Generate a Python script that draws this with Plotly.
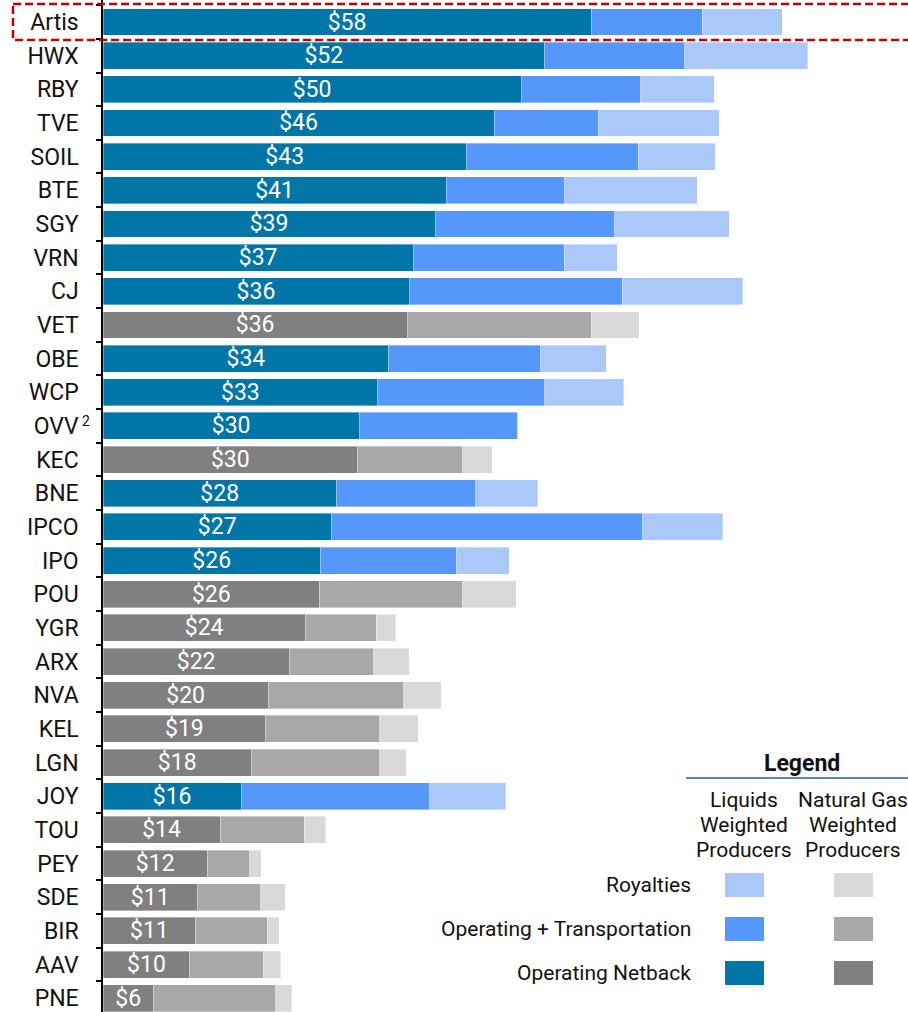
import plotly.graph_objects as go

companies = ["Artis", "HWX", "RBY", "TVE", "SOIL", "BTE", "SGY", "VRN", "CJ", "VET",
             "OBE", "WCP", "OVV", "KEC", "BNE", "IPCO", "IPO", "POU", "YGR", "ARX",
             "NVA", "KEL", "LGN", "JOY", "TOU", "PEY", "SDE", "BIR", "AAV", "PNE"]
producer_type = ["L", "L", "L", "L", "L", "L", "L", "L", "L", "G",
                 "L", "L", "L", "G", "L", "L", "L", "G", "G", "G",
                 "G", "G", "G", "L", "G", "G", "G", "G", "G", "G"]
netback = [57.9, 52.4, 49.6, 46.4, 43.1, 40.7, 39.4, 36.8, 36.3, 36.1,
           33.9, 32.6, 30.4, 30.2, 27.7, 27.1, 25.8, 25.7, 24.0, 22.1,
           19.6, 19.3, 17.6, 16.4, 13.9, 12.4, 11.2, 11.0, 10.3, 6.0]
opex_transport = [13.2, 16.6, 14.2, 12.4, 20.4, 14.1, 21.3, 17.9, 25.3, 21.8,
                  18.0, 19.8, 18.8, 12.5, 16.5, 36.9, 16.1, 17.0, 8.4, 10.0,
                  16.1, 13.5, 15.2, 22.3, 10.0, 5.0, 7.5, 8.5, 8.7, 14.5]
royalties = [9.5, 14.6, 8.7, 14.3, 9.1, 15.7, 13.6, 6.3, 14.3, 5.7,
             7.8, 9.4, 0.0, 3.5, 7.4, 9.5, 6.3, 6.3, 2.3, 4.2,
             4.4, 4.6, 3.2, 9.1, 2.5, 1.4, 2.9, 1.4, 2.1, 1.9]

row_labels = ["Royalties", "Operating + Transportation", "Operating Netback"]
col_labels = [["Liquids", "Weighted", "Producers"], ["Natural Gas", "Weighted", "Producers"]]

COLORS = {
    "L": {"net": "#0075A8", "opex": "#5597FA", "roy": "#AAC8F9"},
    "G": {"net": "#808080", "opex": "#A8A8A8", "roy": "#D9D9D9"},
}

FONT = "Roboto, Noto Sans, sans-serif"
W, H = 908, 1012
ML = 103


def px(x):
    return (x - ML) / (W - ML)


def py(y):
    return 1 - y / H


fig = go.Figure()
segments = [("net", netback), ("opex", opex_transport), ("roy", royalties)]
for key, vals in segments:
    fig.add_trace(go.Bar(
        y=companies, x=vals, orientation="h",
        marker=dict(color=[COLORS[t][key] for t in producer_type],
                    line=dict(color="rgba(255,255,255,0.6)", width=0.6)),
        texttemplate="$%{x:.0f}" if key == "net" else None,
        textposition="inside" if key == "net" else "none",
        insidetextanchor="middle",
        textangle=0,
        textfont=dict(color="white", size=23, family=FONT),
        constraintext="none",
        hoverinfo="skip",
        showlegend=False,
    ))

fig.update_layout(
    width=W, height=H,
    margin=dict(l=ML, r=0, t=0, b=0),
    barmode="stack", bargap=0.2,
    plot_bgcolor="white", paper_bgcolor="white",
    font=dict(family=FONT, color="#111111"),
    xaxis=dict(range=[0, (W - ML) / 8.43], visible=False, showgrid=False, zeroline=False),
    yaxis=dict(type="category", categoryorder="array", categoryarray=companies,
               range=[29.41, -0.654], autorange=False,
               showline=True, linecolor="black", linewidth=1.5,
               ticks="outside", tickson="boundaries", ticklen=5, tickcolor="black",
               tickwidth=1.5, ticklabelstandoff=18,
               tickfont=dict(size=23, family=FONT, color="#111111"),
               showgrid=False, zeroline=False),
)

# superscript note on OVV
fig.add_annotation(x=px(86), y=py(421), xref="paper", yref="paper", text="2",
                   showarrow=False, font=dict(size=14, family=FONT, color="#111111"),
                   xanchor="center", yanchor="middle")

# highlight box around Artis
fig.add_shape(type="rect", xref="paper", yref="paper",
              x0=px(13), x1=px(912), y0=py(4), y1=py(40),
              line=dict(color="#C00000", width=2.5, dash="8px,4px"), layer="above")

# custom legend
fig.add_annotation(x=px(802), y=py(763), xref="paper", yref="paper", text="<b>Legend</b>",
                   showarrow=False, font=dict(size=23, family=FONT, color="#111111"),
                   xanchor="center", yanchor="middle")
fig.add_shape(type="line", xref="paper", yref="paper", x0=px(686), x1=px(910),
              y0=py(778), y1=py(778), line=dict(color="#5A8CAA", width=2))
for cx, lines in zip([744, 853], col_labels):
    for ly, lab in zip([800, 825, 850], lines):
        fig.add_annotation(x=px(cx), y=py(ly), xref="paper", yref="paper", text=lab,
                           showarrow=False, align="center",
                           font=dict(size=21, family=FONT, color="#111111"),
                           xanchor="center", yanchor="middle")
row_y = [(873, 897), (917, 941), (961, 985)]
row_keys = ["roy", "opex", "net"]
for (y0, y1), lab, key in zip(row_y, row_labels, row_keys):
    fig.add_annotation(x=px(693), y=py((y0 + y1) / 2), xref="paper", yref="paper", text=lab,
                       showarrow=False, font=dict(size=21, family=FONT, color="#111111"),
                       xanchor="right", yanchor="middle")
    for (x0, x1), t in zip([(725, 764), (834, 873)], ["L", "G"]):
        fig.add_shape(type="rect", xref="paper", yref="paper",
                      x0=px(x0), x1=px(x1), y0=py(y1), y1=py(y0),
                      fillcolor=COLORS[t][key], line=dict(width=0))

fig.write_html("out.html", config={"displayModeBar": False},
               post_script="document.body.style.margin='0';")
